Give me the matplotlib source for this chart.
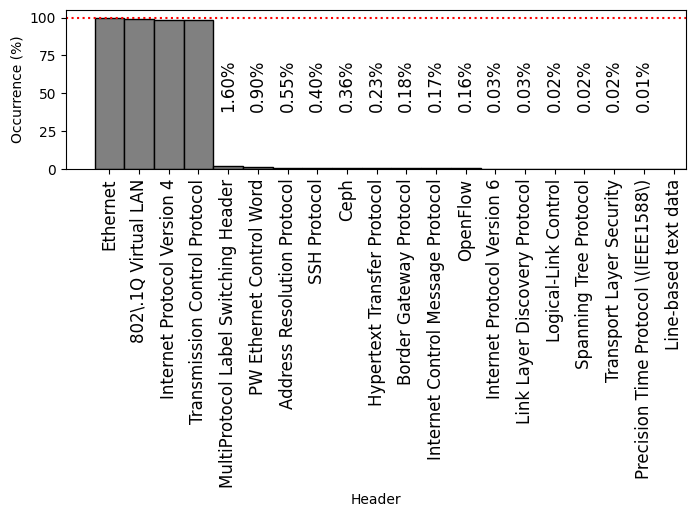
import matplotlib
matplotlib.use("Agg")
import matplotlib.pyplot as plt
import numpy as np

headers = [
    "Ethernet", "802\\.1Q Virtual LAN", "Internet Protocol Version 4",
    "Transmission Control Protocol", "MultiProtocol Label Switching Header",
    "PW Ethernet Control Word", "Address Resolution Protocol", "SSH Protocol",
    "Ceph", "Hypertext Transfer Protocol", "Border Gateway Protocol",
    "Internet Control Message Protocol", "OpenFlow", "Internet Protocol Version 6",
    "Link Layer Discovery Protocol", "Logical-Link Control", "Spanning Tree Protocol",
    "Transport Layer Security", "Precision Time Protocol \\(IEEE1588\\)",
    "Line-based text data",
]
# bar heights
occurrence = [100.0, 98.9, 98.5, 98.4, 1.8, 1.1, 0.6, 0.5, 0.45, 0.4,
              0.4, 0.4, 0.4, 0.04, 0.04, 0.03, 0.03, 0.03, 0.02, 0.01]
labels = ["", "", "", "", "1.60%", "0.90%", "0.55%", "0.40%", "0.36%", "0.23%",
          "0.18%", "0.17%", "0.16%", "0.03%", "0.03%", "0.02%", "0.02%", "0.02%",
          "0.01%", ""]

fig = plt.figure(figsize=(6.95, 5.17), dpi=100)
ax = fig.add_axes([66 / 695, 1 - 169 / 517, 620 / 695, 159 / 517])

x = np.arange(len(headers))
ax.bar(x, occurrence, width=1.0, color="grey", edgecolor="black")
ax.axhline(100, color="red", linestyle=":", linewidth=1.5)

for xi, lab in zip(x, labels):
    if lab:
        ax.text(xi, 37.5, lab, rotation=90, ha="center", va="bottom", fontsize=12)

ax.set_xticks(x)
ax.set_xticklabels(headers, rotation=90, fontsize=12)
ax.set_xlim(-1.46, 19.42)
ax.set_ylim(0, 105)
ax.set_yticks([0, 25, 50, 75, 100])
ax.set_xlabel("Header")
ax.set_ylabel("Occurrence (%)")

fig.savefig("out.png", dpi=100)
